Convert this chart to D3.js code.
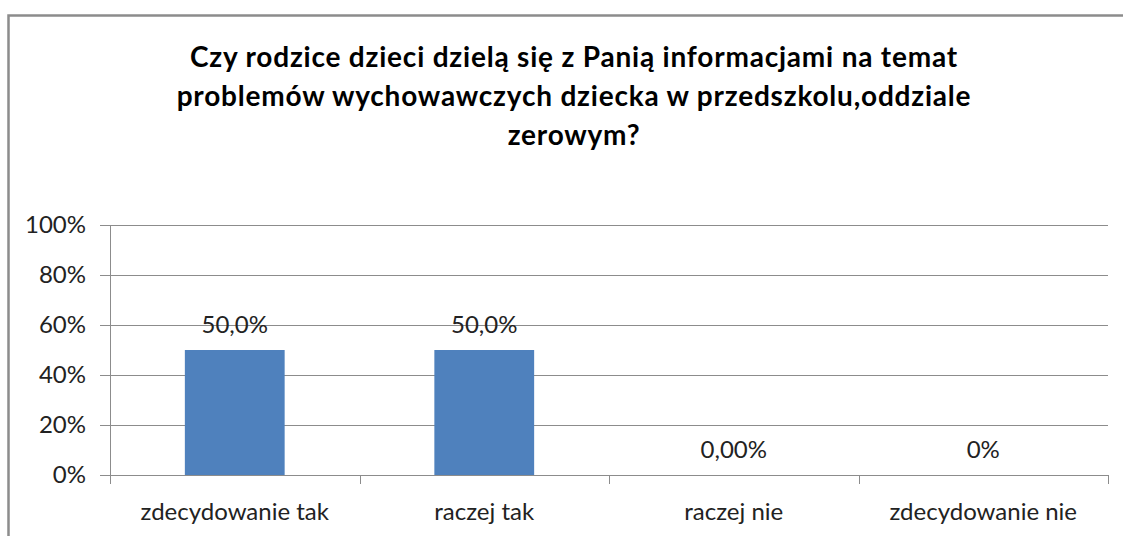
<!DOCTYPE html>
<html>
<head>
<meta charset="utf-8">
<script src="https://cdn.jsdelivr.net/npm/d3@7"></script>
<style>
  body { margin: 0; background: #fff; }
  svg { display: block; font-family: Lato, "Open Sans", sans-serif; }
</style>
</head>
<body>
<div id="chart"></div>
<script>
// data
const categories = ["zdecydowanie tak", "raczej tak", "raczej nie", "zdecydowanie nie"]
const values = [50, 50, 0, 0]
const valueLabels = ["50,0%", "50,0%", "0,00%", "0%"]
const yTicks = [0, 20, 40, 60, 80, 100]
const titleLines = [
  "Czy rodzice dzieci dzielą się z Panią informacjami na temat",
  "problemów wychowawczych dziecka w przedszkolu,oddziale",
  "zerowym?"
]

const W = 1123, H = 536
const m = { top: 225, right: 15, bottom: 61, left: 110 }
const w = W - m.left - m.right
const h = H - m.top - m.bottom

const svg = d3.select("#chart").append("svg")
  .attr("width", W).attr("height", H)

// outer chart frame (runs off the right and bottom edges)
svg.append("rect")
  .attr("x", 8.5).attr("y", 15.5)
  .attr("width", W + 20).attr("height", H + 20)
  .attr("fill", "none").attr("stroke", "#8c8c8c").attr("stroke-width", 2.5)

// title
const title = svg.append("text")
  .attr("text-anchor", "middle")
  .style("font-weight", "700").style("font-size", "28px").style("letter-spacing", "0.8px")
  .style("fill", "#000")
titleLines.forEach((t, i) => {
  title.append("tspan").attr("x", 574).attr("y", 67 + i * 39).text(t)
})

const g = svg.append("g").attr("transform", `translate(${m.left},${m.top})`)

const x = d3.scaleBand().domain(categories).range([0, w]).paddingInner(0.6).paddingOuter(0.3)
const xCat = d3.scaleBand().domain(categories).range([0, w])
const y = d3.scaleLinear().domain([0, 100]).range([h, 0])

// gridlines
g.selectAll(".grid")
  .data(yTicks.filter(d => d > 0))
  .join("line")
  .attr("x1", 0).attr("x2", w)
  .attr("y1", d => Math.round(y(d)) + 0.5).attr("y2", d => Math.round(y(d)) + 0.5)
  .attr("stroke", "#8c8c8c").attr("stroke-width", 1)

// y axis
const yAxis = g.append("g")
  .call(d3.axisLeft(y).tickValues(yTicks).tickSize(10).tickPadding(14).tickFormat(d => d + "%"))
yAxis.select(".domain").attr("stroke", "#8c8c8c")
yAxis.selectAll(".tick line").attr("stroke", "#8c8c8c")
yAxis.selectAll("text").style("font-size", "24px").style("fill", "#222")
  .style("font-family", "Lato, 'Open Sans', sans-serif")

// x axis with ticks at category boundaries
const xAxis = g.append("g").attr("transform", `translate(0,${h})`)
xAxis.append("line").attr("x1", 0).attr("x2", w).attr("y1", 0.5).attr("y2", 0.5).attr("stroke", "#8c8c8c")
xAxis.selectAll(".bound")
  .data(categories.concat(["end"]))
  .join("line")
  .attr("x1", (d, i) => Math.round(i < categories.length ? xCat(d) : w) + 0.5)
  .attr("x2", (d, i) => Math.round(i < categories.length ? xCat(d) : w) + 0.5)
  .attr("y1", 0).attr("y2", 9)
  .attr("stroke", "#8c8c8c")
xAxis.selectAll(".cat")
  .data(categories)
  .join("text")
  .attr("x", d => xCat(d) + xCat.bandwidth() / 2)
  .attr("y", 45)
  .attr("text-anchor", "middle")
  .style("font-size", "24px").style("fill", "#222")
  .text(d => d)

// bars
g.selectAll(".bar")
  .data(values)
  .join("rect")
  .attr("x", (d, i) => x(categories[i]))
  .attr("y", d => y(d))
  .attr("width", x.bandwidth())
  .attr("height", d => h - y(d))
  .attr("fill", "#4f81bd")

// value labels
g.selectAll(".val")
  .data(values)
  .join("text")
  .attr("x", (d, i) => xCat(categories[i]) + xCat.bandwidth() / 2)
  .attr("y", d => y(d) - 17)
  .attr("text-anchor", "middle")
  .style("font-size", "24px").style("fill", "#222")
  .text((d, i) => valueLabels[i])
</script>
</body>
</html>
